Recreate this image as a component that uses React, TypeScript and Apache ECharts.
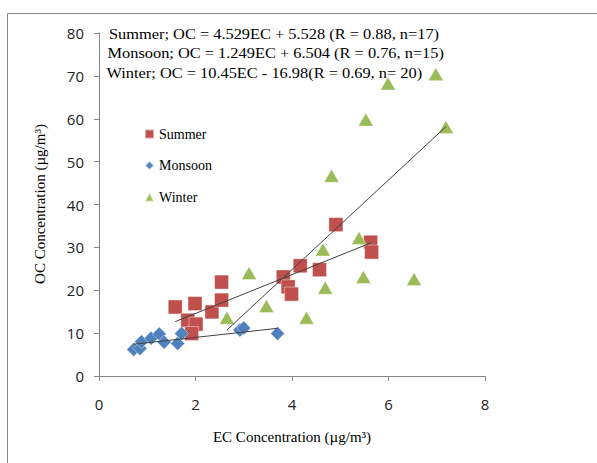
import React, { useEffect, useRef } from "react";
import * as echarts from "echarts";

// EC (x) and OC (y) values, µg/m³
const summerEC = [1.58, 1.99, 1.84, 2.01, 1.92, 2.34, 2.54, 2.54, 3.82, 3.92, 3.99, 4.17, 4.57, 4.91, 5.63, 5.65];
const summerOC = [16.1, 16.9, 13.0, 12.1, 9.9, 14.95, 21.9, 17.7, 23.1, 20.8, 19.1, 25.7, 24.8, 35.3, 31.2, 28.9];

const monsoonEC = [0.72, 0.85, 0.88, 1.08, 1.25, 1.35, 1.63, 1.71, 2.92, 3.0, 3.7];
const monsoonOC = [6.2, 6.4, 8.0, 8.8, 9.8, 7.9, 7.6, 9.9, 10.7, 11.2, 9.9];

const winterEC = [2.65, 3.11, 3.47, 4.3, 4.64, 4.69, 4.82, 5.39, 5.48, 6.53, 6.98, 7.19, 5.53, 5.99];
const winterOC = [13.6, 24.0, 16.3, 13.6, 29.5, 20.6, 46.7, 32.2, 23.1, 22.6, 70.4, 58.1, 59.8, 68.2];

// Regression fits (slope, intercept) as printed on the chart
const summerFit = [4.529, 5.528];
const monsoonFit = [1.249, 6.504];
const winterFit = [10.45, -16.98];

const seriesNames = ["Summer", "Monsoon", "Winter"];
const equationLines = [
  "Summer; OC = 4.529EC + 5.528 (R = 0.88, n=17)",
  "Monsoon; OC = 1.249EC + 6.504 (R = 0.76, n=15)",
  "Winter; OC = 10.45EC - 16.98(R = 0.69, n= 20)",
];
const xTicks = [0, 8, 2];
const yTicks = [0, 80, 10];

const zip = (xs: number[], ys: number[]) => xs.map((x, i) => [x, ys[i]]);
const fitLine = (xs: number[], fit: number[]) => {
  const lo = Math.min(...xs);
  const hi = Math.max(...xs);
  return [
    [lo, fit[0] * lo + fit[1]],
    [hi, fit[0] * hi + fit[1]],
  ];
};

const serif = "'Liberation Serif', 'Times New Roman', serif";

export default function App() {
  const ref = useRef<HTMLDivElement>(null);
  useEffect(() => {
    if (!ref.current) return;
    const chart = echarts.init(ref.current, undefined, { renderer: "svg" });
    const trend = (data: number[][]) => ({
      type: "line",
      data,
      showSymbol: false,
      symbol: "none",
      lineStyle: { color: "#404040", width: 1 },
      z: 5,
      silent: true,
    });
    chart.setOption({
      animation: false,
      backgroundColor: "#fff",
      grid: { left: 99, top: 33, width: 386, height: 343, containLabel: false },
      legend: {
        orient: "vertical",
        left: 139,
        top: 122,
        itemWidth: 9,
        itemHeight: 9,
        itemGap: 17.5,
        textStyle: { fontFamily: serif, fontSize: 14, color: "#000" },
        data: [
          { name: seriesNames[0], icon: "rect" },
          { name: seriesNames[1], icon: "diamond" },
          { name: seriesNames[2], icon: "triangle" },
        ],
      },
      xAxis: {
        type: "value",
        min: xTicks[0],
        max: xTicks[1],
        interval: xTicks[2],
        splitLine: { show: false },
        axisLine: { lineStyle: { color: "#868686" } },
        axisTick: { show: true, length: 5, lineStyle: { color: "#868686" } },
        axisLabel: { margin: 20, fontFamily: "'Open Sans', sans-serif", fontSize: 15, color: "#222" },
      },
      yAxis: {
        type: "value",
        min: yTicks[0],
        max: yTicks[1],
        interval: yTicks[2],
        splitLine: { show: false },
        axisLine: { show: true, lineStyle: { color: "#868686" } },
        axisTick: { show: true, length: 5, lineStyle: { color: "#868686" } },
        axisLabel: { margin: 15, fontFamily: "'Open Sans', sans-serif", fontSize: 15, color: "#222" },
      },
      graphic: [
        {
          type: "rect",
          shape: { x: 7.5, y: 13.5, width: 800, height: 700 },
          style: { stroke: "#868686", fill: "none", lineWidth: 1 },
          silent: true,
          z: -10,
        },
        ...equationLines.map((t, i) => ({
          type: "text",
          x: [109, 107.5, 106.5][i],
          y: [34, 53, 73][i],
          scaleX: 1.17,
          style: { text: t, font: `14px ${serif}`, fill: "#000", textVerticalAlign: "middle" },
          z: 10,
        })),
        {
          type: "text",
          x: 40,
          y: 204,
          rotation: Math.PI / 2,
          style: {
            text: "OC Concentration (µg/m³)",
            font: `15px ${serif}`,
            fill: "#000",
            textAlign: "center",
            textVerticalAlign: "middle",
          },
        },
        {
          type: "text",
          x: 292,
          y: 437,
          style: {
            text: "EC Concentration (µg/m³)",
            font: `15px ${serif}`,
            fill: "#000",
            textAlign: "center",
            textVerticalAlign: "middle",
          },
        },
      ],
      series: [
        {
          name: seriesNames[0],
          type: "scatter",
          symbol: "rect",
          symbolSize: 14,
          data: zip(summerEC, summerOC),
          itemStyle: { color: "#C0504D", borderColor: "rgba(255,255,255,0.5)", borderWidth: 0.8, opacity: 1 },
        },
        {
          name: seriesNames[1],
          type: "scatter",
          symbol: "diamond",
          symbolSize: 14,
          data: zip(monsoonEC, monsoonOC),
          itemStyle: { color: "#4F81BD", borderColor: "rgba(255,255,255,0.5)", borderWidth: 0.8, opacity: 1 },
        },
        {
          name: seriesNames[2],
          type: "scatter",
          symbol: "triangle",
          symbolSize: [15, 13],
          data: zip(winterEC, winterOC),
          itemStyle: { color: "#9BBB59", borderColor: "rgba(255,255,255,0.5)", borderWidth: 0.8, opacity: 1 },
        },
        trend(fitLine(summerEC, summerFit)),
        trend(fitLine(monsoonEC, monsoonFit)),
        trend(fitLine(winterEC, winterFit)),
      ],
    });
    return () => chart.dispose();
  }, []);
  return (
    <div
      ref={ref}
      style={{ position: "fixed", left: 0, top: 0, width: 597, height: 463, background: "#fff" }}
    />
  );
}
